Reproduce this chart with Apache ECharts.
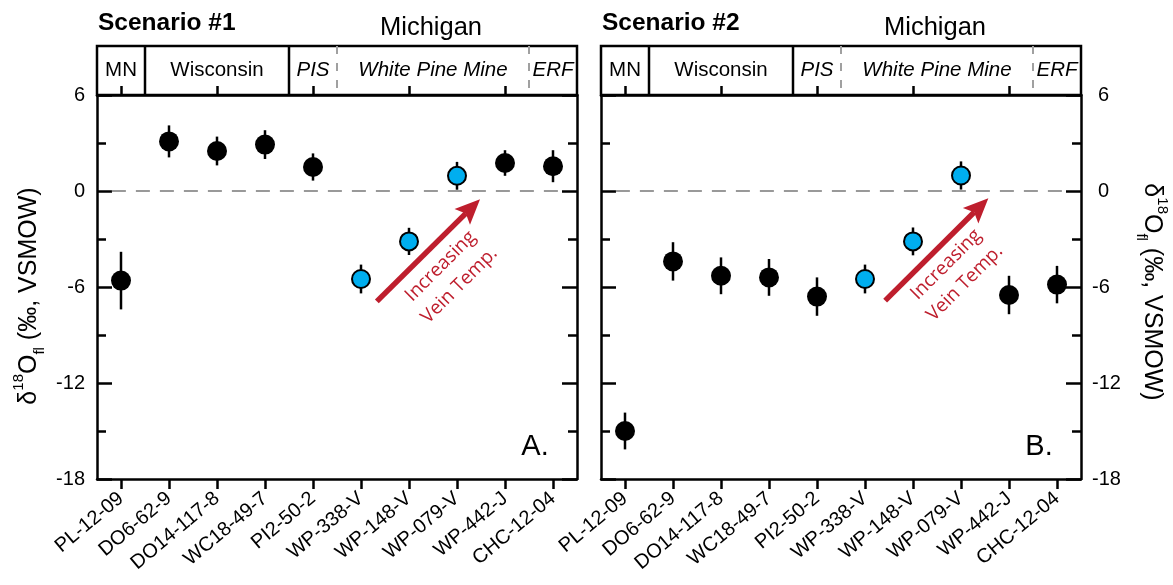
<!DOCTYPE html>
<html>
<head>
<meta charset="utf-8">
<script src="https://cdn.jsdelivr.net/npm/echarts@6/dist/echarts.min.js"></script>
<style>
  html, body { margin: 0; padding: 0; background: #fff; }
  #chart { width: 1173px; height: 585px; }
</style>
</head>
<body>
<div id="chart"></div>
<script>
// Sample names along the x axis (same order in both scenarios)
const samples = ['PL-12-09', 'DO6-62-9', 'DO14-117-8', 'WC18-49-7', 'PI2-50-2',
                 'WP-338-V', 'WP-148-V', 'WP-079-V', 'WP-442-J', 'CHC-12-04'];
// Vein samples drawn in blue
const veinSamples = ['WP-338-V', 'WP-148-V', 'WP-079-V'];

// δ18O of the fluid (‰ VSMOW) and ± uncertainty
const scenario1Values = [-5.6, 3.1, 2.5, 2.9, 1.5, -5.5, -3.15, 0.95, 1.75, 1.55];
const scenario1Errors = [1.8, 1.0, 0.9, 0.9, 0.85, 0.9, 0.85, 0.87, 0.8, 1.0];
const scenario2Values = [-15.0, -4.4, -5.3, -5.4, -6.6, -5.5, -3.15, 0.97, -6.5, -5.85];
const scenario2Errors = [1.15, 1.2, 1.15, 1.15, 1.2, 0.9, 0.87, 0.88, 1.2, 1.17];

// y axis range and tick step
const yMin = -18, yMax = 6, yStep = 6;

// Sampling regions shown in the header strip (index ranges into samples)
const regions = [
  { label: 'MN',              state: 'MN',        from: 0, to: 0, italic: false },
  { label: 'Wisconsin',       state: 'Wisconsin', from: 1, to: 3, italic: false },
  { label: 'PIS',             state: 'Michigan',  from: 4, to: 4, italic: true },
  { label: 'White Pine Mine', state: 'Michigan',  from: 5, to: 8, italic: true },
  { label: 'ERF',             state: 'Michigan',  from: 9, to: 9, italic: true }
];
const stateLabel = 'Michigan';

// Trend arrow (start, tip) in [sample index, ‰] and its caption anchors
const arrowA = [[5.33, -6.9], [7.48, -0.52]];
const arrowB = [[5.42, -6.85], [7.57, -0.45]];
const captionA = [[6.66, -4.7], [7.05, -5.9]];
const captionB = [[6.69, -4.6], [7.08, -5.75]];
const captionLines = ['Increasing', 'Vein Temp.'];

// Span of the dashed zero reference, in sample-index units
const zeroSpan = [-0.19, 9.15];

const FONT = '"Liberation Sans", Arial, Helvetica, sans-serif';
const ARROW_RED = '#be1e2d';
const VEIN_BLUE = '#00aeef';
const LW = 2.5;

const panels = [
  { grid: { left: 97, top: 95, width: 480, height: 384 }, values: scenario1Values, errors: scenario1Errors,
    title: 'Scenario #1', tag: 'A.', labelSide: 'left', arrow: arrowA, caption: captionA },
  { grid: { left: 601, top: 95, width: 480, height: 384 }, values: scenario2Values, errors: scenario2Errors,
    title: 'Scenario #2', tag: 'B.', labelSide: 'right', arrow: arrowB, caption: captionB }
];

const chart = echarts.init(document.getElementById('chart'), null, { renderer: 'canvas' });

const grids = [], xAxes = [], yAxes = [], series = [];

function makeYAxis(gridIndex, position, labeled) {
  const right = position === 'right';
  return {
    type: 'value', gridIndex, position, min: yMin, max: yMax, interval: yStep,
    axisLine: { show: true, onZero: false, lineStyle: { color: '#000', width: LW } },
    axisTick: { show: true, inside: true, length: 15, lineStyle: { color: '#000', width: LW } },
    minorTick: { show: true, splitNumber: 2, length: 9, lineStyle: { color: '#000', width: LW } },
    splitLine: { show: false }, minorSplitLine: { show: false },
    axisLabel: {
      show: labeled, color: '#000', fontSize: 20, fontFamily: FONT, margin: right ? 11 : 12,
      formatter: right ? (v => (v < 0 ? String(v) : '{pad|' + v + '}')) : (v => String(v)),
      rich: { pad: { padding: [0, 0, 0, 6], fontSize: 20, fontFamily: FONT, color: '#000' } }
    }
  };
}

panels.forEach((p, k) => {
  grids.push(Object.assign({ containLabel: false }, p.grid));
  const xb = xAxes.length;
  // bottom category axis with sample labels
  xAxes.push({
    type: 'category', gridIndex: k, position: 'bottom', data: samples, boundaryGap: true,
    axisLine: { show: true, onZero: false, lineStyle: { color: '#000', width: LW } },
    axisTick: { show: true, alignWithLabel: true, length: 10, lineStyle: { color: '#000', width: LW } },
    axisLabel: { interval: 0, rotate: 40, fontSize: 20, fontFamily: FONT, color: '#000', margin: 17 },
    splitLine: { show: false }
  });
  // top category axis: ticks only
  xAxes.push({
    type: 'category', gridIndex: k, position: 'top', data: samples, boundaryGap: true,
    axisLine: { show: true, onZero: false, lineStyle: { color: '#000', width: LW } },
    axisTick: { show: true, alignWithLabel: true, length: 9, lineStyle: { color: '#000', width: LW } },
    axisLabel: { show: false }, splitLine: { show: false }
  });
  // hidden continuous axis for annotations in sample-index units
  const xv = xAxes.length;
  xAxes.push({ type: 'value', gridIndex: k, min: -0.5, max: 9.5, show: false });

  const yl = yAxes.length;
  yAxes.push(makeYAxis(k, 'left', p.labelSide === 'left'));
  yAxes.push(makeYAxis(k, 'right', p.labelSide === 'right'));

  // error bars
  series.push({
    type: 'custom', xAxisIndex: xb, yAxisIndex: yl, z: 3, silent: true,
    data: samples.map((s, i) => [i, p.values[i], p.errors[i]]),
    encode: { x: 0, y: 1 },
    renderItem(params, api) {
      const i = api.value(0), v = api.value(1), e = api.value(2);
      const a = api.coord([i, v + e]);
      const b = api.coord([i, v - e]);
      return { type: 'line', shape: { x1: a[0], y1: a[1], x2: b[0], y2: b[1] },
               style: { stroke: '#000', lineWidth: LW } };
    }
  });
  // sample points
  series.push({
    type: 'scatter', xAxisIndex: xb, yAxisIndex: yl, z: 4, silent: true,
    data: samples.map((s, i) => {
      const vein = veinSamples.includes(s);
      return {
        value: [i, p.values[i]],
        symbolSize: vein ? 18 : 20,
        itemStyle: vein ? { color: VEIN_BLUE, borderColor: '#000', borderWidth: 2, opacity: 1 }
                        : { color: '#000', opacity: 1 }
      };
    })
  });
  // dashed zero reference
  series.push({
    type: 'line', xAxisIndex: xv, yAxisIndex: yl, z: 2, silent: true,
    showSymbol: false, symbol: 'none',
    data: zeroSpan.map(x => [x, 0]),
    lineStyle: { color: '#999', width: 2, type: [14, 10] }
  });
});

chart.setOption({
  animation: false,
  backgroundColor: '#fff',
  grid: grids, xAxis: xAxes, yAxis: yAxes, series
});

// Annotations positioned through the hidden index axis of each panel
const graphics = [];
const txt = (x, y, text, opts) => Object.assign({
  type: 'text', x, y, silent: true,
  style: Object.assign({ text, fill: '#000', fontFamily: FONT, fontSize: 20,
                         align: 'center', verticalAlign: 'middle' }, opts || {})
});

panels.forEach((p, k) => {
  const sIdx = k * 3 + 2;
  const px = (x, y) => chart.convertToPixel({ seriesIndex: sIdx }, [x, y || 0]);
  const g = p.grid;
  const hTop = 46, hBot = g.top;
  const xl = px(-0.5)[0], xr = px(9.5)[0];

  // titles
  graphics.push(txt(g.left + 1, 23, p.title, { align: 'left', fontWeight: 'bold', fontSize: 24.5 }));
  const mich = regions.filter(r => r.state === stateLabel);
  const mFrom = mich[0].from - 0.5, mTo = mich[mich.length - 1].to + 0.5;
  graphics.push(txt(px((mFrom + mTo) / 2)[0] - 2, 28, stateLabel, { fontSize: 25.5 }));

  // header box
  graphics.push({ type: 'rect', silent: true, shape: { x: xl, y: hTop, width: xr - xl, height: hBot - hTop },
                  style: { fill: 'none', stroke: '#000', lineWidth: LW } });
  regions.forEach((r, i) => {
    graphics.push(txt(px((r.from + r.to) / 2)[0], 70, r.label,
      { fontStyle: r.italic ? 'italic' : 'normal', fontSize: 20.5 }));
    if (i > 0) {
      const bx = px(r.from - 0.5)[0];
      const same = regions[i - 1].state === r.state;
      graphics.push({ type: 'line', silent: true, shape: { x1: bx, y1: hTop, x2: bx, y2: hBot },
        style: same ? { stroke: '#a0a0a0', lineWidth: 2, lineDash: [8, 9] }
                    : { stroke: '#000', lineWidth: LW } });
    }
  });

  // panel tag
  graphics.push(txt(g.left + g.width - 42, g.top + g.height - 32, p.tag, { fontSize: 29 }));

  // y axis title
  const rich = {
    m: { fontSize: 25, fontFamily: FONT, fill: '#000', lineHeight: 36, verticalAlign: 'middle' },
    sup: { fontSize: 15, fontFamily: FONT, fill: '#000', lineHeight: 17, verticalAlign: 'top' },
    sub: { fontSize: 15, fontFamily: FONT, fill: '#000', lineHeight: 15, verticalAlign: 'bottom' }
  };
  const yTitle = '{m|δ}{sup|18}{m|O}{sub|fl}{m| (‰, VSMOW)}';
  if (p.labelSide === 'left') {
    graphics.push({ type: 'text', x: 29, y: 296, rotation: Math.PI / 2, silent: true,
      style: { text: yTitle, rich, align: 'center', verticalAlign: 'middle' } });
  } else {
    graphics.push({ type: 'text', x: 1152, y: 292, rotation: -Math.PI / 2, silent: true,
      style: { text: yTitle, rich, align: 'center', verticalAlign: 'middle' } });
  }

  // trend arrow
  const a0 = px(p.arrow[0][0], p.arrow[0][1]);
  const a1 = px(p.arrow[1][0], p.arrow[1][1]);
  const dx = a1[0] - a0[0], dy = a1[1] - a0[1];
  const len = Math.hypot(dx, dy);
  const ux = dx / len, uy = dy / len, nx = -uy, ny = ux;
  const headLen = 25, headHalf = 11, notch = 5;
  const base = [a1[0] - ux * headLen, a1[1] - uy * headLen];
  graphics.push({ type: 'line', silent: true,
    shape: { x1: a0[0], y1: a0[1], x2: base[0] + ux * notch, y2: base[1] + uy * notch },
    style: { stroke: ARROW_RED, lineWidth: 5.5 } });
  graphics.push({ type: 'polygon', silent: true,
    shape: { points: [
      a1,
      [base[0] + nx * headHalf, base[1] + ny * headHalf],
      [base[0] + ux * notch, base[1] + uy * notch],
      [base[0] - nx * headHalf, base[1] - ny * headHalf]
    ] },
    style: { fill: ARROW_RED } });
  p.caption.forEach((c, i) => {
    const q = px(c[0], c[1]);
    graphics.push({ type: 'text', x: q[0], y: q[1], rotation: Math.PI / 4, silent: true,
      style: { text: captionLines[i], fill: ARROW_RED, fontFamily: '"Open Sans", sans-serif',
               fontSize: 19, align: 'center', verticalAlign: 'middle' } });
  });
});

chart.setOption({ graphic: graphics });
</script>
</body>
</html>
